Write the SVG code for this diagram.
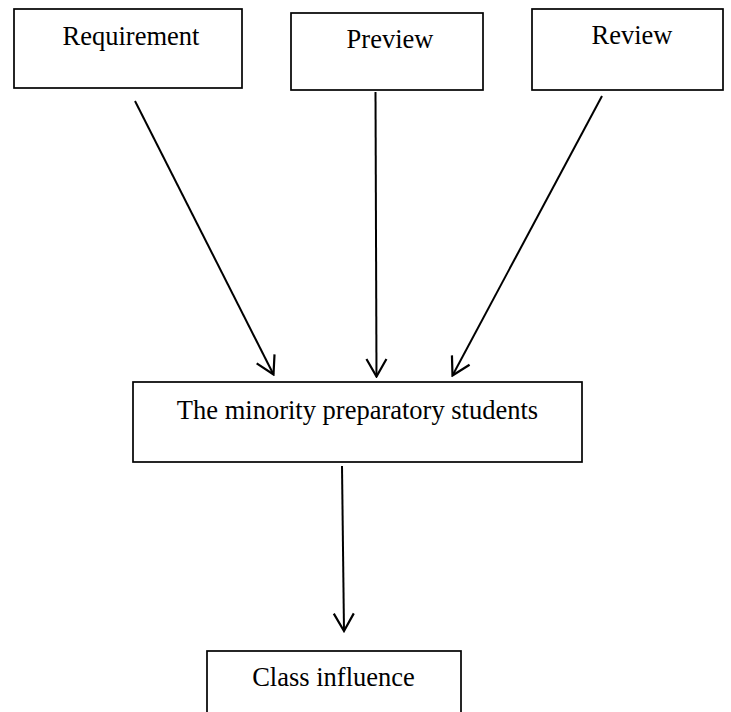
<svg xmlns="http://www.w3.org/2000/svg" width="731" height="712" viewBox="0 0 731 712">
<defs>
<style>
.box{fill:#fff;stroke:#000;stroke-width:1.7}
.lbl{font-family:"Liberation Serif","Times New Roman",serif;font-size:26.5px;fill:#000;text-anchor:middle}
.arr{stroke:#000;stroke-width:2;fill:none;marker-end:url(#ah)}
</style>
<marker id="ah" markerUnits="userSpaceOnUse" viewBox="-22 -12 24 24" refX="0" refY="0" markerWidth="24" markerHeight="24" orient="auto">
<path d="M-17.5,-10 L0,0 L-17.5,10" fill="none" stroke="#000" stroke-width="2.2"/>
</marker>
</defs>
<rect width="731" height="712" fill="#fff"/>
<g id="requirement"><rect class="box" x="14" y="9" width="228" height="79"/><text class="lbl" x="131" y="45">Requirement</text></g>
<g id="preview"><rect class="box" x="291" y="13" width="192" height="77"/><text class="lbl" x="390" y="48">Preview</text></g>
<g id="review"><rect class="box" x="532" y="9" width="191" height="81"/><text class="lbl" x="632" y="44">Review</text></g>
<g id="students"><rect class="box" x="133" y="382" width="449" height="80"/><text class="lbl" x="357.5" y="419">The minority preparatory students</text></g>
<g id="influence"><rect class="box" x="207" y="651" width="254" height="70"/><text class="lbl" x="333.5" y="686">Class influence</text></g>
<g id="connectors">
<line class="arr" x1="135" y1="101" x2="273.5" y2="374.5"/>
<line class="arr" x1="375.5" y1="92" x2="376.5" y2="376.5"/>
<line class="arr" x1="602" y1="96" x2="452.5" y2="375.5"/>
<line class="arr" x1="342" y1="466" x2="344" y2="631"/>
</g>
</svg>
